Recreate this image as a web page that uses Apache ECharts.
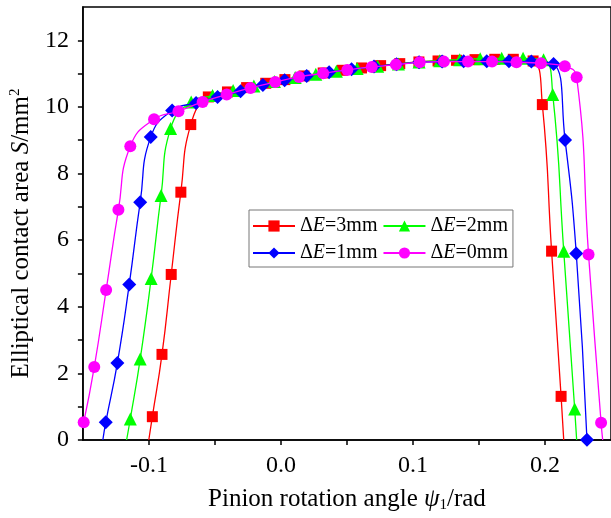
<!DOCTYPE html>
<html>
<head>
<meta charset="utf-8">
<script src="https://cdn.jsdelivr.net/npm/echarts@6/dist/echarts.min.js"></script>
<style>
  html, body { margin: 0; padding: 0; background: #fff; }
  #chart { width: 611px; height: 518px; }
</style>
</head>
<body>
<div id="chart"></div>
<script>
// Pinion rotation angle (rad) and contact area (mm^2).
// Points with area exactly 0 are where a curve meets the axis (drawn without marker).
const dE3Angle = [-0.1001, -0.0974, -0.0901, -0.0831, -0.0758, -0.0683, -0.055, -0.0405, -0.026, -0.0115, 0.003, 0.0175, 0.032, 0.0465, 0.061, 0.0755, 0.09, 0.1045, 0.119, 0.133, 0.147, 0.162, 0.176, 0.191, 0.198, 0.205, 0.2122, 0.2142];
const dE3Area  = [0, 0.70, 2.57, 4.97, 7.44, 9.47, 10.30, 10.45, 10.58, 10.71, 10.82, 10.93, 11.02, 11.10, 11.17, 11.24, 11.30, 11.35, 11.38, 11.40, 11.42, 11.43, 11.43, 11.38, 10.07, 5.67, 1.31, 0];

const dE2Angle = [-0.1169, -0.1141, -0.1066, -0.0983, -0.0908, -0.0836, -0.068, -0.0518, -0.0362, -0.0205, -0.0049, 0.0108, 0.0264, 0.042, 0.0577, 0.0733, 0.089, 0.1046, 0.1203, 0.1354, 0.1509, 0.1672, 0.1834, 0.1989, 0.2059, 0.2142, 0.2225, 0.2240];
const dE2Area  = [0, 0.63, 2.43, 4.85, 7.34, 9.35, 10.15, 10.34, 10.49, 10.63, 10.76, 10.88, 10.98, 11.07, 11.15, 11.22, 11.29, 11.35, 11.39, 11.42, 11.45, 11.46, 11.46, 11.42, 10.37, 5.67, 0.93, 0];

const dE1Angle = [-0.1349, -0.1327, -0.1239, -0.1149, -0.1066, -0.0986, -0.0824, -0.0643, -0.048, -0.0306, -0.0137, 0.0028, 0.0195, 0.0365, 0.0535, 0.0705, 0.0876, 0.1046, 0.1221, 0.1384, 0.1559, 0.1727, 0.1897, 0.2065, 0.2152, 0.2237, 0.2318];
const dE1Area  = [0, 0.53, 2.31, 4.67, 7.14, 9.10, 9.89, 10.12, 10.30, 10.47, 10.66, 10.80, 10.93, 11.04, 11.13, 11.21, 11.28, 11.34, 11.36, 11.37, 11.37, 11.37, 11.36, 11.29, 9.01, 5.60, 0.01];

const dE0Angle = [-0.1494, -0.1414, -0.1324, -0.1231, -0.1141, -0.0961, -0.0776, -0.0593, -0.0411, -0.023, -0.0043, 0.0137, 0.032, 0.0503, 0.0688, 0.0871, 0.1051, 0.1234, 0.1417, 0.1599, 0.1784, 0.1969, 0.2150, 0.2240, 0.2330, 0.2425, 0.2437];
const dE0Area  = [0.53, 2.19, 4.50, 6.91, 8.82, 9.63, 9.87, 10.15, 10.37, 10.57, 10.75, 10.90, 11.01, 11.11, 11.20, 11.27, 11.34, 11.36, 11.36, 11.36, 11.34, 11.31, 11.22, 10.89, 5.57, 0.52, 0];

const seriesNames = ['ΔE=3mm', 'ΔE=2mm', 'ΔE=1mm', 'ΔE=0mm'];
const seriesColors = ['#ff0000', '#00ff00', '#0000ff', '#ff00ff'];
const seriesSymbols = ['rect', 'triangle', 'diamond', 'circle'];
const symbolSizes = [11, 13, 14, 12];

const xTickValues = [-0.1, -0.05, 0, 0.05, 0.1, 0.15, 0.2];
const xLabelValues = [-0.1, 0, 0.1, 0.2];
const yTickValues = [0, 1, 2, 3, 4, 5, 6, 7, 8, 9, 10, 11, 12];
const yLabelValues = [0, 2, 4, 6, 8, 10, 12];

const serif = '"Liberation Serif", "DejaVu Serif", serif';

function toPoints(xs, ys) {
    return xs.map((x, i) => {
        // curve endpoints on the axis carry no marker
        if (ys[i] === 0) return { value: [x, ys[i]], symbol: 'none' };
        return [x, ys[i]];
    });
}

const allAngles = [dE3Angle, dE2Angle, dE1Angle, dE0Angle];
const allAreas = [dE3Area, dE2Area, dE1Area, dE0Area];

const chart = echarts.init(document.getElementById('chart'));

chart.setOption({
    backgroundColor: '#fff',
    animation: false,
    grid: {
        left: 79, top: 7, width: 533, height: 436,
        show: true, borderColor: '#000', borderWidth: 1.5
    },
    legend: {
        data: seriesNames,
        left: 249, top: 210,
        width: 262,
        orient: 'horizontal',
        itemWidth: 42, itemHeight: 14, itemGap: 5,
        padding: [5, 5, 3, 3],
        borderColor: '#777', borderWidth: 1,
        backgroundColor: '#fff',
        formatter: name => name.replace('E', '{i|E}'),
        textStyle: {
            fontFamily: serif, fontSize: 20, color: '#000', lineHeight: 22,
            rich: { i: { fontFamily: serif, fontSize: 20, fontStyle: 'italic', color: '#000' } }
        }
    },
    xAxis: {
        type: 'value',
        min: -0.15, max: 0.25,
        name: 'Pinion rotation angle {psi|ψ}{sub|1}/rad',
        nameLocation: 'middle',
        nameGap: 46,
        nameTextStyle: {
            fontFamily: serif, fontSize: 25, color: '#000',
            rich: {
                psi: { fontFamily: serif, fontSize: 25, fontStyle: 'italic', color: '#000' },
                sub: { fontFamily: serif, fontSize: 15, color: '#000', verticalAlign: 'bottom', padding: [12, 0, 0, 0] }
            }
        },
        axisLine: { show: true, onZero: false, lineStyle: { color: '#000', width: 1.5 } },
        axisTick: { show: true, customValues: xTickValues, length: 5, lineStyle: { color: '#000', width: 1.5 } },
        axisLabel: {
            customValues: xLabelValues,
            formatter: v => v.toFixed(1),
            fontFamily: serif, fontSize: 24, color: '#000', margin: 14
        },
        splitLine: { show: false }
    },
    yAxis: {
        type: 'value',
        min: 0, max: 13,
        name: 'Elliptical contact area {i|S}/mm{sup|2}',
        nameLocation: 'middle',
        nameRotate: 90,
        nameGap: 44,
        nameTextStyle: {
            fontFamily: serif, fontSize: 25, color: '#000',
            padding: [0, 20, 0, 0],
            rich: {
                i: { fontFamily: serif, fontSize: 25, fontStyle: 'italic', color: '#000' },
                sup: { fontFamily: serif, fontSize: 15, color: '#000', verticalAlign: 'top', padding: [0, 0, 12, 0] }
            }
        },
        axisLine: { show: true, onZero: false, lineStyle: { color: '#000', width: 1.5 } },
        axisTick: { show: true, customValues: yTickValues, length: 5, lineStyle: { color: '#000', width: 1.5 } },
        axisLabel: {
            customValues: yLabelValues,
            fontFamily: serif, fontSize: 24, color: '#000', margin: 14
        },
        splitLine: { show: false }
    },
    series: seriesNames.map((name, k) => ({
        name: name,
        type: 'line',
        data: toPoints(allAngles[k], allAreas[k]),
        smooth: 0.5,
        symbol: seriesSymbols[k],
        symbolSize: symbolSizes[k],
        showAllSymbol: true,
        color: seriesColors[k],
        lineStyle: { color: seriesColors[k], width: 1.3 },
        itemStyle: { color: seriesColors[k] },
        z: 2 + k
    }))
});
</script>
</body>
</html>
